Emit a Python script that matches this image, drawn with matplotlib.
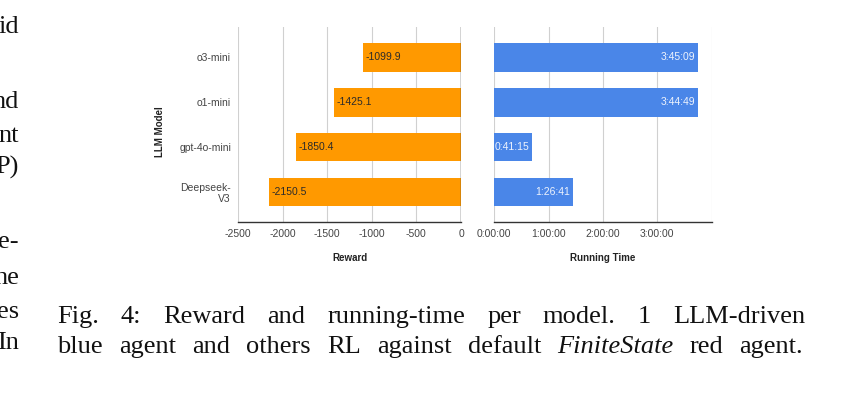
import numpy as np
import matplotlib
matplotlib.use('Agg')
import matplotlib.pyplot as plt

# chart data
models = ['o3-mini', 'o1-mini', 'gpt-4o-mini', 'Deepseek-\nV3']
rewards = [-1099.9, -1425.1, -1850.4, -2150.5]
run_times = ['3:45:09', '3:44:49', '0:41:15', '1:26:41']
reward_ticks = [-2500, -2000, -1500, -1000, -500, 0]
time_ticks = [0, 1, 2, 3, 4]
time_tick_labels = ['0:00:00', '1:00:00', '2:00:00', '3:00:00', '']

# page text around the figure
caption_lines = [
    ['Fig.', '4:', 'Reward', 'and', 'running-time', 'per', 'model.', '1', 'LLM-driven'],
    ['blue', 'agent', 'and', 'others', 'RL', 'against', 'default', 'FiniteState', 'red', 'agent.'],
]
italic_words = ['FiniteState']
side_words = ['id', 'nd', 'nt', 'P)', 'e-', 'ne', 'es', 'In']
side_baselines = [33, 108, 142, 174, 248, 284, 318, 349]

W, H = 863, 398
ORANGE = '#ff9900'
BLUE = '#4a86e8'
GRID = '#d0d0d0'
TICK = '#444444'


def to_hours(s):
    h, m, sec = [int(v) for v in s.split(':')]
    return h + m / 60 + sec / 3600


def px_axes(fig, x0, y0, x1, y1):
    return fig.add_axes([x0 / W, 1 - y1 / H, (x1 - x0) / W, (y1 - y0) / H])


def style_axes(ax):
    for s in ['top', 'left', 'right']:
        ax.spines[s].set_visible(False)
    ax.spines['bottom'].set_color('#333333')
    ax.spines['bottom'].set_linewidth(1.0)
    ax.tick_params(length=0, labelsize=7.5, colors=TICK, pad=5)
    ax.grid(axis='x', color=GRID, linewidth=0.8)
    ax.set_axisbelow(True)
    ax.set_ylim(len(models) - 0.33, -0.68)


def justify(fig, renderer, words, x0, x1, base, size):
    texts = []
    for w in words:
        st = 'italic' if w in italic_words else 'normal'
        t = fig.text(x0 / W, 1 - base / H, w, fontsize=size, family='Liberation Serif',
                     fontstyle=st, va='baseline', ha='left', color='#111111')
        texts.append(t)
    widths = [t.get_window_extent(renderer).width for t in texts]
    gap = (x1 - x0 - sum(widths)) / (len(words) - 1)
    x = x0
    for t, wd in zip(texts, widths):
        t.set_x(x / W)
        x += wd + gap


def main():
    plt.rcParams['font.family'] = ['Liberation Sans', 'DejaVu Sans']
    fig = plt.figure(figsize=(W / 100, H / 100), dpi=100)
    y = np.arange(len(models))
    hours = [to_hours(s) for s in run_times]

    # reward panel
    ax1 = px_axes(fig, 238, 27, 461, 222)
    style_axes(ax1)
    ax1.barh(y, rewards, height=0.64, color=ORANGE)
    ax1.axvline(0, color='#333333', linewidth=1.0)
    ax1.set_xlim(-2500, 0)
    ax1.set_xticks(reward_ticks)
    ax1.set_xticklabels([str(v) for v in reward_ticks])
    ax1.set_yticks(y)
    ax1.set_yticklabels(models, fontsize=7.5, color=TICK, ha='right', linespacing=1.1)
    ax1.tick_params(axis='y', pad=5)
    for yi, r in zip(y, rewards):
        ax1.text(r + 25, yi, f'{r:.1f}', va='center', ha='left', fontsize=7.5, color='#2b2b2b')
    ax1.set_xlabel('Reward', fontsize=7, fontweight='bold', color='#222222', labelpad=10)
    fig.text(160 / W, 1 - 132 / H, 'LLM Model', rotation=90, fontsize=7,
             fontweight='bold', color='#222222', ha='center', va='center')

    # running time panel
    ax2 = px_axes(fig, 494.3, 27, 711.7, 222)
    style_axes(ax2)
    ax2.barh(y, hours, height=0.64, color=BLUE)
    ax2.set_xlim(0, 4)
    ax2.set_xticks(time_ticks)
    ax2.set_xticklabels(time_tick_labels)
    ax2.set_yticks([])
    for yi, hv, s in zip(y, hours, run_times):
        ax2.text(hv - 0.05, yi, s, va='center', ha='right', fontsize=7.5, color='#eef3fd')
    ax2.set_xlabel('Running Time', fontsize=7, fontweight='bold', color='#222222', labelpad=10)

    # caption, justified between two edges
    renderer = fig.canvas.get_renderer()
    full = ' '.join(caption_lines[0])
    size = 19
    while size > 10:
        t = fig.text(0, 0, full, fontsize=size, family='Liberation Serif')
        wd = t.get_window_extent(renderer).width
        t.remove()
        if wd <= 805 - 57 - 4:
            break
        size -= 0.25
    justify(fig, renderer, caption_lines[0], 57, 805, 323, size)
    justify(fig, renderer, caption_lines[1], 57, 803, 353, size)

    # cut-off text column on the left
    for w, b in zip(side_words, side_baselines):
        fig.text(19 / W, 1 - b / H, w, fontsize=size, family='Liberation Serif',
                 ha='right', va='baseline', color='#111111')

    fig.savefig('out.png', dpi=100)


if __name__ == '__main__':
    main()
